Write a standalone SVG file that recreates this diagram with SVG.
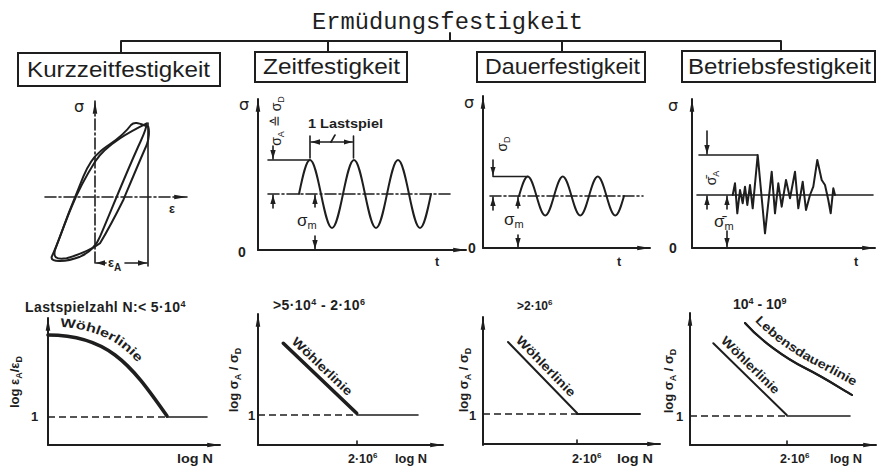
<svg xmlns="http://www.w3.org/2000/svg" width="877" height="469" viewBox="0 0 877 469">
<style>
.ln{stroke:#1e1e1e;stroke-width:2;fill:none;stroke-linecap:round;stroke-linejoin:round}
.th{stroke-width:1.6}
.hv{stroke-width:3.6}
.chain{stroke-dasharray:11 3 2 3}
.dash{stroke-dasharray:7 4;stroke-linecap:butt}
.box{fill:#fff;stroke:#1e1e1e;stroke-width:2}
text{font-family:"Liberation Sans",Arial,sans-serif;fill:#1e1e1e}
.mono{font-family:"Liberation Mono","Courier New",monospace;font-size:24px}
.hd{font-size:22px}
.sm{font-size:12.5px;font-weight:bold}
.sg{font-family:"DejaVu Sans",sans-serif;font-size:16px}
</style>
<defs>
<marker id="ah" viewBox="0 0 10 6" refX="10" refY="3" markerWidth="9" markerHeight="5.5" orient="auto" markerUnits="userSpaceOnUse"><path d="M0,0L10,3L0,6z" fill="#1e1e1e"/></marker>
<marker id="ax" viewBox="0 0 14 6" refX="14" refY="3" markerWidth="13" markerHeight="5.5" orient="auto" markerUnits="userSpaceOnUse"><path d="M0,0.5L14,3L0,5.5z" fill="#1e1e1e"/></marker>
</defs>

<g id="title"><text class="mono" x="447.5" y="29" text-anchor="middle" textLength="271" lengthAdjust="spacingAndGlyphs">Ermüdungsfestigkeit</text></g>

<g id="connectors">
<path class="ln" d="M121,53V41H781V51M328,41V52M562,41V52M450,33V41"/>
</g>

<g id="n-kurzzeit"><rect class="box" x="18" y="53" width="202" height="33"/><text class="hd" x="27" y="77" textLength="183" lengthAdjust="spacingAndGlyphs">Kurzzeitfestigkeit</text></g>
<g id="n-zeit"><rect class="box" x="255" y="52" width="152" height="30"/><text class="hd" x="263" y="74" textLength="137" lengthAdjust="spacingAndGlyphs">Zeitfestigkeit</text></g>
<g id="n-dauer"><rect class="box" x="477" y="52" width="168" height="30"/><text class="hd" x="485" y="74" textLength="155" lengthAdjust="spacingAndGlyphs">Dauerfestigkeit</text></g>
<g id="n-betrieb"><rect class="box" x="682" y="51" width="193" height="31"/><text class="hd" x="688" y="74" textLength="183" lengthAdjust="spacingAndGlyphs">Betriebsfestigkeit</text></g>

<!-- Panel 1: hysteresis -->
<g id="chart-kurzzeit">
<path class="ln chain th" d="M95,263V101" marker-end="url(#ax)"/>
<path class="ln chain th" d="M45,197H187" marker-end="url(#ax)"/>
<path class="ln th" d="M148,123V266"/>
<path class="ln th" d="M106,263H96" marker-end="url(#ah)"/>
<path class="ln th" d="M125,263H147" marker-end="url(#ah)"/>
<text class="sg" x="74" y="112">σ</text>
<text class="sm" x="169" y="213">ε</text>
<text class="sm" x="108" y="267">ε<tspan dy="4" font-size="10">A</tspan></text>
<path class="ln" stroke-width="2.2" d="M146.7,123.3C133.3,130 106.7,143.3 95,161.7C86.7,175 78.3,190 71.7,206.7C63.3,226.7 56.7,246.7 51.7,256.7C50,263.3 66.7,261.7 80,256.7C91.7,251.7 96.7,245 100,236.7C110,213.3 123.3,180 136.7,150C141.7,138.3 146.7,130 146.7,123.3Z"/>
<path class="ln" stroke-width="2.2" d="M148.3,126.7C140,124 135,121 131,125C120,140 108,144 100,151.7C91.7,158.3 86.7,168.3 83.3,176.7C75,196.7 63.3,226.7 55,250C53.3,256.7 55,260 66.7,258.3C83.3,253.3 93.3,248.3 100,243.3C110,226.7 116.7,213.3 123.3,200C131.7,180 140,160 146.7,145C149.3,138.3 149.3,130 148.3,126.7Z"/>
</g>

<!-- Panel 2: Zeitfestigkeit -->
<g id="chart-zeit">
<path class="ln" d="M258,250V99" marker-end="url(#ax)"/>
<path class="ln" d="M258,250H466" marker-end="url(#ax)"/>
<path class="ln chain th" d="M268,194H450"/>
<path class="ln th" d="M268,160H310"/>
<path class="ln th" d="M273,146V159" marker-end="url(#ah)"/>
<path class="ln th" d="M273,208V195" marker-end="url(#ah)"/>
<path class="ln th" d="M315,207V195" marker-end="url(#ah)"/>
<path class="ln th" d="M315,236V249" marker-end="url(#ah)"/>
<path class="ln th" d="M310,158V136M353.5,158V136"/>
<path class="ln th" d="M331,142H311" marker-end="url(#ah)"/>
<path class="ln th" d="M331,142H352.5" marker-end="url(#ah)"/>
<path class="ln th" d="M331,142L335,135"/>
<path class="ln" stroke-width="2.4" d="M299,194C302.59,176.58 306.02,160 310,160C313.98,160 317.41,176.58 321,194C324.59,211.42 328.02,228 332,228C335.98,228 339.41,211.42 343,194C346.59,176.58 350.02,160 354,160C357.98,160 361.41,176.58 365,194C368.59,211.42 372.02,228 376,228C379.98,228 383.41,211.42 387,194C390.59,176.58 394.02,160 398,160C401.98,160 405.41,176.58 409,194C412.59,211.42 416.02,228 420,228C423.98,228 427.41,211.42 431,194"/>
<text class="sg" x="239" y="110">σ</text>
<text class="sm" x="238" y="257" style="font-size:14px">0</text>
<text class="sm" x="435" y="266">t</text>
<text class="sm" x="308" y="128" textLength="75" lengthAdjust="spacingAndGlyphs">1 Lastspiel</text>
<text transform="translate(281,121) rotate(-90)" text-anchor="middle" font-size="14" font-family="DejaVu Sans, sans-serif">σ<tspan dy="3" font-size="9">A</tspan><tspan dy="-3"> ≙ σ</tspan><tspan dy="3" font-size="9">D</tspan></text>
<text x="297" y="226" font-size="17" font-family="DejaVu Sans, sans-serif">σ<tspan font-size="11" dy="3">m</tspan></text>
</g>

<!-- Panel 3: Dauerfestigkeit -->
<g id="chart-dauer">
<path class="ln" d="M483,248V96" marker-end="url(#ax)"/>
<path class="ln" d="M483,248H650" marker-end="url(#ax)"/>
<path class="ln chain th" d="M490,196H643"/>
<path class="ln th" d="M493,176.5H528"/>
<path class="ln th" d="M493,160V175.5" marker-end="url(#ah)"/>
<path class="ln th" d="M493,210V197" marker-end="url(#ah)"/>
<path class="ln th" d="M518,208V197" marker-end="url(#ah)"/>
<path class="ln th" d="M518,235V247" marker-end="url(#ah)"/>
<path class="ln" stroke-width="2.4" d="M519,196C521.85,186 524.58,176.5 527.75,176.5C530.92,176.5 533.65,186 536.5,196C539.35,206 542.08,215.5 545.25,215.5C548.42,215.5 551.15,206 554,196C556.85,186 559.58,176.5 562.75,176.5C565.92,176.5 568.65,186 571.5,196C574.35,206 577.08,215.5 580.25,215.5C583.42,215.5 586.15,206 589,196C591.85,186 594.58,176.5 597.75,176.5C600.92,176.5 603.65,186 606.5,196C609.35,206 612.08,215.5 615.25,215.5C618.42,215.5 621.15,206 624,196"/>
<text class="sg" x="464" y="108">σ</text>
<text class="sm" x="468" y="253" style="font-size:14px">0</text>
<text class="sm" x="617" y="266">t</text>
<text transform="translate(507,144) rotate(-90)" text-anchor="middle" font-size="14" font-family="DejaVu Sans, sans-serif">σ<tspan dy="3" font-size="9">D</tspan></text>
<text x="504" y="225" font-size="17" font-family="DejaVu Sans, sans-serif">σ<tspan font-size="11" dy="3">m</tspan></text>
</g>

<!-- Panel 4: Betriebsfestigkeit -->
<g id="chart-betrieb">
<path class="ln" d="M692,248V99" marker-end="url(#ax)"/>
<path class="ln" d="M692,248H875" marker-end="url(#ax)"/>
<path class="ln th" d="M697,195H873"/>
<path class="ln th" d="M699,155H757"/>
<path class="ln th" d="M707,131V154" marker-end="url(#ah)"/>
<path class="ln th" d="M707,209V196" marker-end="url(#ah)"/>
<path class="ln th" d="M727,209V196" marker-end="url(#ah)"/>
<path class="ln th" d="M727,231V247" marker-end="url(#ah)"/>
<path class="ln" stroke-width="2.2" d="M732.7,195L735,183.3L737.3,213.3L740,190L742.7,203.3L745,186.7L747.3,205L750,185L752.7,208.3L757.7,155L765,233.3L771.7,171.7L775,213.3L778.3,183.3L781.7,206.7L786,180L790,198.3L795,171.7L798.3,208.3L802.7,181.7L806,210L810,195L813.3,186.7L817.3,160L821.7,180L825,185L828.3,200L830.7,213.3L833.3,188.3L835,195"/>
<text class="sg" x="668" y="111">σ</text>
<text class="sm" x="669" y="253" style="font-size:14px">0</text>
<text class="sm" x="854" y="266">t</text>
<text transform="translate(716,178) rotate(-90)" text-anchor="middle" font-size="14" font-family="DejaVu Sans, sans-serif">σ̄<tspan dy="3" font-size="9">A</tspan></text>
<text x="714" y="227" font-size="17" font-family="DejaVu Sans, sans-serif">σ̄<tspan font-size="11" dy="3">m</tspan></text>
</g>

<!-- Panel 5 -->
<g id="chart-n1">
<path class="ln" d="M48,445V318" marker-end="url(#ax)"/>
<path class="ln" d="M48,445H220" marker-end="url(#ax)"/>
<path class="ln dash th" d="M48,417H167"/>
<path class="ln th" d="M167,417H207"/>
<path class="ln hv" d="M48,335C70,335 95,340 115,355C135,370 150,392 167,416"/>
<path id="tp1" d="M60,327C80,328 100,333 117,344C127,351 134,358 141,367" fill="none"/>
<text class="sm"><textPath href="#tp1" textLength="88" lengthAdjust="spacingAndGlyphs">Wöhlerlinie</textPath></text>
<text class="sm" x="25" y="312" style="font-size:14px" letter-spacing="0.4">Lastspielzahl N:&lt; 5·10<tspan dy="-5" font-size="9">4</tspan></text>
<text class="sm" x="31" y="421" style="font-size:13px">1</text>
<text class="sm" x="177" y="463" style="font-size:13px" textLength="36" lengthAdjust="spacingAndGlyphs">log N</text>
<text class="sm" transform="translate(19,382) rotate(-90)" text-anchor="middle" style="font-size:13px">log ε<tspan dy="3" font-size="9">A</tspan><tspan dy="-3">/ε</tspan><tspan dy="3" font-size="9">D</tspan></text>
</g>

<!-- Panel 6 -->
<g id="chart-n2">
<path class="ln" d="M258,445V314" marker-end="url(#ax)"/>
<path class="ln" d="M258,445H443" marker-end="url(#ax)"/>
<path class="ln dash th" d="M258,415H357"/>
<path class="ln th" d="M357,415H418M357,445V441"/>
<path class="ln hv" d="M283.3,343.3L356.7,413.3"/>
<text class="sm" transform="translate(291,342.5) rotate(43.6)" textLength="78" lengthAdjust="spacingAndGlyphs">Wöhlerlinie</text>
<text class="sm" x="273" y="310" style="font-size:14px" letter-spacing="0.4">&gt;5·10<tspan dy="-5" font-size="9">4</tspan><tspan dy="5"> - 2·10</tspan><tspan dy="-5" font-size="9">6</tspan></text>
<text class="sm" x="248" y="420" style="font-size:13px">1</text>
<text class="sm" x="348" y="463">2·10<tspan dy="-5" font-size="8">6</tspan></text>
<text class="sm" x="395" y="463" style="font-size:13px" textLength="32" lengthAdjust="spacingAndGlyphs">log N</text>
<text class="sm" transform="translate(238,380) rotate(-90)" text-anchor="middle" style="font-size:13px">log σ<tspan dy="3" font-size="9">A</tspan><tspan dy="-3"> / σ</tspan><tspan dy="3" font-size="9">D</tspan></text>
</g>

<!-- Panel 7 -->
<g id="chart-n3">
<path class="ln" d="M483,445V317" marker-end="url(#ax)"/>
<path class="ln" d="M483,444H660" marker-end="url(#ax)"/>
<path class="ln dash th" d="M483,414H577"/>
<path class="ln" stroke-width="3" d="M577,414H640"/>
<path class="ln th" d="M577,444V440"/>
<path class="ln" d="M508,342L577,413"/>
<text class="sm" transform="translate(515.3,340.9) rotate(45.8)" textLength="79" lengthAdjust="spacingAndGlyphs">Wöhlerlinie</text>
<text class="sm" x="517" y="310" style="font-size:12px">&gt;2·10<tspan dy="-5" font-size="8">6</tspan></text>
<text class="sm" x="469" y="420" style="font-size:13px">1</text>
<text class="sm" x="572" y="463">2·10<tspan dy="-5" font-size="8">6</tspan></text>
<text class="sm" x="617" y="463" style="font-size:13px" textLength="36" lengthAdjust="spacingAndGlyphs">log N</text>
<text class="sm" transform="translate(468,380) rotate(-90)" text-anchor="middle" style="font-size:13px">log σ<tspan dy="3" font-size="9">A</tspan><tspan dy="-3"> / σ</tspan><tspan dy="3" font-size="9">D</tspan></text>
</g>

<!-- Panel 8 -->
<g id="chart-n4">
<path class="ln" d="M690,445V313" marker-end="url(#ax)"/>
<path class="ln" d="M690,445H876" marker-end="url(#ax)"/>
<path class="ln dash th" d="M690,416H787"/>
<path class="ln th" d="M787,416H850M787,445V441"/>
<path class="ln" d="M713.3,343.3L786.7,415"/>
<path class="ln" stroke-width="5" d="M745,323C760,340 785,358 805,368C825,378 840,388 852,395"/>
<path class="ln" stroke-width="1.6" stroke="#9a9a9a" d="M745,323C760,340 785,358 805,368C825,378 840,388 852,395"/>
<text class="sm" transform="translate(720.2,341.6) rotate(44.3)" textLength="76" lengthAdjust="spacingAndGlyphs">Wöhlerlinie</text>
<path id="tp8" d="M755,321C770,337 793,354 813,364C833,374 849,384 866,392" fill="none"/>
<text class="sm"><textPath href="#tp8" textLength="119" lengthAdjust="spacingAndGlyphs">Lebensdauerlinie</textPath></text>
<text class="sm" x="733" y="309" style="font-size:14px">10<tspan dy="-5" font-size="9">4</tspan><tspan dy="5"> - 10</tspan><tspan dy="-5" font-size="9">9</tspan></text>
<text class="sm" x="676" y="421" style="font-size:13px">1</text>
<text class="sm" x="780" y="463">2·10<tspan dy="-5" font-size="8">6</tspan></text>
<text class="sm" x="830" y="463" style="font-size:13px" textLength="32" lengthAdjust="spacingAndGlyphs">log N</text>
<text class="sm" transform="translate(673,381) rotate(-90)" text-anchor="middle" style="font-size:13px">log σ<tspan dy="3" font-size="9">A</tspan><tspan dy="-3"> / σ</tspan><tspan dy="3" font-size="9">D</tspan></text>
</g>
</svg>
